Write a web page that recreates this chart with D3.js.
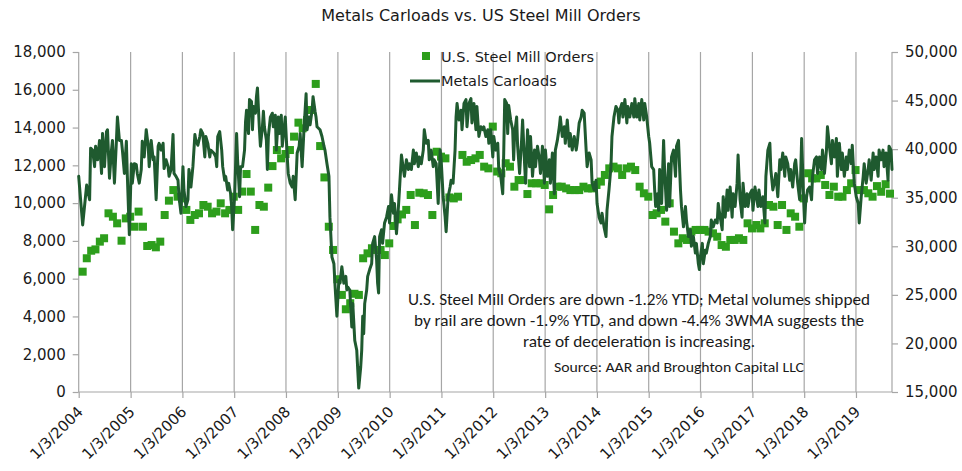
<!DOCTYPE html>
<html><head><meta charset="utf-8">
<script src="https://cdn.jsdelivr.net/npm/d3@7"></script>
<style>
body{margin:0;background:#fff;}
svg{display:block;}
</style></head>
<body><svg id="chart" width="962" height="471"></svg>
<script>
// ---------------- DATA ----------------
const title = "Metals Carloads vs. US Steel Mill Orders";
const xTickLabels = ["1/3/2004","1/3/2005","1/3/2006","1/3/2007","1/3/2008","1/3/2009","1/3/2010","1/3/2011","1/3/2012","1/3/2013","1/3/2014","1/3/2015","1/3/2016","1/3/2017","1/3/2018","1/3/2019"];
const leftTicks = [0,2000,4000,6000,8000,10000,12000,14000,16000,18000];
const rightTicks = [15000,20000,25000,30000,35000,40000,45000,50000];
const seriesNames = ["U.S. Steel Mill Orders","Metals Carloads"];
const notes = ["U.S. Steel Mill Orders are down -1.2% YTD; Metal volumes shipped",
  "by rail are down -1.9% YTD, and down -4.4% 3WMA suggests the",
  "rate of deceleration is increasing."];
const source = "Source: AAR and Broughton Capital LLC";
const firstWeek = "2004-01-03", lastWeek = "2019-09-14";

// Metals carloads: [weeks since 1/3/2004, carloads]
const carloads = [
[0,37200],[4,32200],[8,36300],[11,34800],[12,40100],[14,39900],[16,38200],[17,40300],[19,38900],[21,40900],[23,37500],[24,41600],[26,38200],[28,41800],[29,42000],[31,37000],[33,39900],[34,40900],[36,36500],[38,40900],[39,43300],[41,40900],[43,40900],[44,39900],[46,37500],[48,40800],[49,37200],[51,31200],[53,38500],[54,36500],[56,38500],[58,38400],[59,37500],[61,36500],[63,37900],[64,40800],[66,39200],[68,42000],[70,40300],[71,38200],[73,40900],[75,38900],[76,39200],[78,34800],[80,40300],[81,40600],[83,39900],[85,40600],[86,38000],[88,38900],[90,38200],[91,37200],[93,37900],[95,41500],[96,37500],[98,37200],[100,36800],[101,35100],[103,33400],[105,38200],[106,35800],[108,34100],[110,34800],[111,37900],[113,36100],[115,38200],[117,41500],[118,40900],[120,40400],[122,41300],[123,42000],[125,41600],[127,39200],[128,41300],[130,40600],[132,39200],[133,39900],
[136,39600],[138,39200],[139,38200],[140,41300],[142,41800],[144,39900],[145,38200],[147,36800],[148,37200],[150,35800],[151,36500],[153,35400],[154,34100],[155,31700],[157,35100],[159,41600],[160,38900],[162,35100],[163,38200],[165,38200],[167,39900],[168,42800],[169,44000],[171,41600],[172,45100],[174,44900],[175,42000],[176,44400],[178,43700],[179,45400],[180,46300],[182,42000],[183,40300],[185,42300],[186,43900],[187,42300],[189,40900],[190,37900],[191,41300],[193,43300],[195,43700],[196,42300],[198,43500],[199,39900],[201,43300],[202,41600],[204,43500],[205,40300],[207,42300],[208,43300],[210,39200],[211,37500],[213,36500],[215,36100],[216,37200],[218,34800],[220,39600],[222,40300],[223,41600],[225,38200],[227,42300],[228,44000],[229,45700],[230,42000],[232,43300],[233,42500],[235,44000],[236,45400],[238,43900],[239,43300],[240,42300],[242,42100],[243,42000],[245,41300],[247,40300],[248,39900],[250,38500],[252,37200],[253,33000],[255,28900],[257,28200],[258,26200],[260,22800],[262,26500],[263,26200],[265,27900],[267,26200],[269,26900],[270,25500],
[271,25800],[273,25500],[275,21700],[276,24100],[278,20300],[280,19300],[281,17300],[282,15400],[284,17600],[285,19300],[286,22800],[287,21000],[288,24100],[290,25500],[291,26900],[293,27600],[295,28200],[296,30300],[298,31000],[300,28600],[301,26200],[302,25200],[303,31000],[305,31700],[306,30300],[308,32400],[310,33000],[312,34100],[313,32400],[315,35300],[317,33400],[318,34400],[320,31300],[322,34100],[323,35800],[325,39400],[327,37900],[328,37200],[330,38900],[332,37900],[333,38500],[335,37900],[337,39900],[338,38500],[340,39600],[342,38200],[343,39200],[345,38500],[347,39900],[348,42000],[350,40600],[352,40900],[353,38900],[355,39900],[357,38200],[358,38900],[360,38500],[362,34400],[364,39900],[365,38900],[367,35100],[369,33000],[370,31500],[372,35100],[374,36100],[375,36800],[377,36500],[379,39900],[380,43300],[381,44700],[383,43000],[385,44000],[386,42000],[388,44700],[390,45100],[391,42300],[393,44700],[395,45200],[396,42700],[398,44700],[400,42000],[401,44400],[403,41300],[405,42300],[407,42000],
[408,42300],[410,41300],[412,42000],[413,40600],[415,42000],[417,39200],[418,41300],[420,39900],[422,40600],[423,37900],[425,37200],[427,35400],[428,39600],[429,45100],[431,44700],[432,41600],[433,44500],[435,43000],[437,42000],[438,38900],[439,41600],[441,43300],[442,40300],[444,37500],[446,40900],[447,43000],[449,38500],[450,36500],[452,42000],[454,38200],[455,41300],[457,37200],[459,39900],[460,38200],[462,40300],[464,38900],[465,37500],[467,40300],[469,36500],[470,39900],[472,37200],[474,38900],[475,36500],[477,39600],[479,35400],[480,39900],[482,40900],[484,42300],[485,43300],[487,41300],[489,42300],[490,40600],[492,43000],[494,40300],[495,41600],[497,39900],[499,41300],[501,39900],[502,40600],[504,42700],[506,43300],[507,44000],[509,43700],[511,39900],[512,38200],[514,39600],[516,38900],[517,36500],[519,35800],[521,36800],[522,34400],[524,33000],[526,32400],[527,33400],[529,32000],[531,31000],[532,33700],[534,35800],[536,38200],[537,41300],[539,43300],[541,44400],[543,44000],[544,42700],
[545,44000],[547,44700],[548,43300],[550,45100],[552,42700],[553,44400],[555,43300],[557,44700],[559,43300],[560,45200],[562,43300],[564,44700],[565,43000],[567,45100],[569,43000],[570,44700],[572,43300],[574,41300],[575,40600],[577,38200],[579,37900],[580,35800],[581,34100],[583,35400],[584,33700],[585,37900],[587,34400],[589,40900],[590,37900],[592,33700],[594,38500],[595,34100],[597,39200],[599,39900],[601,37200],[602,40300],[604,40900],[606,35800],[607,34100],[609,32000],[611,34100],[612,32700],[614,31000],[616,31700],[617,30000],[619,31000],[621,29300],[622,30300],[624,28200],[625,27600],[626,28900],[628,30300],[629,28200],[631,29600],[632,29300],[634,30300],[636,31000],[637,32700],[639,32000],[641,32700],[643,32400],[644,34400],[646,33000],[648,31700],[649,35100],[651,33000],[653,35800],[654,33700],[656,36100],[658,33000],[659,35400],[661,34100],[663,36500],[664,39400],[666,34800],[668,33000],[669,36500],[671,34100],[673,35400],[674,34100],[676,35400],[678,35800],[679,33700],[681,36100],
[682,35400],[684,34100],[685,35800],[687,34100],[689,35100],[691,32400],[692,37200],[694,39900],[696,40600],[697,37900],[699,35800],[701,36800],[702,37500],[704,35100],[706,38900],[707,37900],[709,39600],[711,37200],[712,39200],[714,38500],[716,36800],[717,37900],[719,36100],[721,38500],[722,38900],[724,36500],[726,34800],[727,37200],[728,41100],[730,34800],[731,32400],[732,34400],[734,35800],[736,36100],[738,34800],[739,37200],[741,38900],[743,39200],[744,37500],[746,39200],[748,37900],[749,39900],[751,37500],[753,39900],[754,42300],[756,40300],[758,38500],[759,40900],[761,39200],[763,41100],[764,37200],[766,40600],[768,37900],[769,39600],[771,37200],[773,39200],[774,37900],[776,39900],[778,38500],[779,40400],[781,36500],[783,35100],[785,34400],[786,32400],[788,35100],[790,37200],[791,38500],[793,36500],[795,37900],[796,38900],[798,36800],[800,39600],[801,37900],[803,39200],[805,37200],[806,39900],[808,38900],[810,39900],[811,38200],[813,39600],[815,36800],[816,40300],[818,39900],[819,37900]
];

// U.S. steel mill orders, monthly from Jan 2004 (month-end dates)
const millOrdersStart = [2004, 0];
const millOrders = [
6370,7080,7480,7550,7960,8140,9460,9280,8930,8010,9190,9280,
8750,9550,8750,7730,7780,7660,7960,9370,10130,10690,10340,10250,
9640,9110,9370,9460,9900,9810,9460,9550,9990,9460,9640,10340,
9640,10610,11540,10610,8580,9900,9810,10820,11960,12810,12370,12600,
12810,13520,14260,13960,14400,14930,16310,13020,11360,8750,7520,5970,
5140,4380,4700,5200,5140,7080,7340,7610,7520,7520,7250,7870,
8790,9140,9400,9640,10430,8840,10550,10520,10430,9370,12720,12460,
12370,10300,10250,10340,12550,12190,12280,12370,12550,11930,11840,14050,
11670,11580,12110,11930,10870,11220,11220,10480,11050,11050,11050,10960,
9670,10430,10870,10870,10780,10690,10690,10690,10870,10780,10780,10960,
11140,11490,11840,11930,11840,11490,11840,11930,11750,10870,10520,10340,
9370,9460,9640,9020,9990,8490,7870,8140,8050,8490,8580,8580,
8580,8490,8400,8220,7780,7690,8050,8050,8140,8050,8930,8660,
8840,8660,8930,9900,9810,8840,9900,8580,9460,9280,8750,10250,
11580,11310,11310,11490,10960,10430,10870,10340,10340,10690,11050,11750,
10690,10690,10520,10340,10900,10600,11000,10500
];

// ---------------- CHART ----------------
const svg = d3.select("#chart");
const L = 78.7, R = 892, T = 52, B = 392;
const axisColor = "#a6a6a6";
const lineColor = "#1f5a2f", markColor = "#2d9e1c";
const tickFont = "DejaVu Sans, Verdana, sans-serif";
const noteFont = "Carlito, Lato, sans-serif";

const parse = d3.timeParse("%Y-%m-%d");
const t0 = parse(firstWeek), t1 = parse(lastWeek);
const x = d3.scaleTime().domain([t0, t1]).range([L, R]);
const yL = d3.scaleLinear().domain([0, 18000]).range([B, T]);
const yR = d3.scaleLinear().domain([15000, 50000]).range([B, T]);

const yearTicks = xTickLabels.map(s => { const p = s.split("/"); return new Date(+p[2], +p[0]-1, +p[1]); });

// gridlines
svg.append("g").selectAll("line").data(yearTicks.slice(1)).join("line")
  .attr("x1", d => x(d)).attr("x2", d => x(d)).attr("y1", T).attr("y2", B)
  .attr("stroke", axisColor).attr("stroke-width", 1.2);

// axes
const fmt = d3.format(",");
const gL = svg.append("g").attr("transform", `translate(${L},0)`)
  .call(d3.axisLeft(yL).tickValues(leftTicks).tickFormat(fmt).tickSize(6).tickPadding(7));
const gR = svg.append("g").attr("transform", `translate(${R},0)`)
  .call(d3.axisRight(yR).tickValues(rightTicks).tickFormat(fmt).tickSize(6).tickPadding(7));
const gB = svg.append("g").attr("transform", `translate(0,${B})`)
  .call(d3.axisBottom(x).tickValues(yearTicks).tickFormat((d,i) => xTickLabels[i]).tickSize(6).tickPadding(4));
[gL, gR, gB].forEach(g => {
  g.select(".domain").attr("stroke", axisColor).attr("stroke-width", 1.2);
  g.selectAll(".tick line").attr("stroke", axisColor).attr("stroke-width", 1.2);
  g.selectAll("text").attr("font-family", tickFont).attr("font-size", 15).attr("fill", "#1a1a1a");
});
gL.select(".domain").attr("d", `M0,${T}V${B}`);
gR.select(".domain").attr("d", `M0,${T}V${B}`);
gB.select(".domain").attr("d", `M${L},0H${R}`);
gB.selectAll(".tick text")
  .attr("text-anchor", "end")
  .attr("transform", "translate(1,17) rotate(-45)")
  .attr("dy", "0.35em").attr("y", 0).attr("x", 0);

// steel mill orders squares
const monthDate = i => new Date(millOrdersStart[0], millOrdersStart[1] + i + 1, 0);
svg.append("g").selectAll("rect").data(millOrders).join("rect")
  .attr("x", (d,i) => x(monthDate(i)) - 4).attr("y", d => yL(d) - 4)
  .attr("width", 8).attr("height", 8).attr("fill", markColor);

// carloads line
const weekDate = w => d3.timeDay.offset(t0, w * 7);
svg.append("path").datum(carloads)
  .attr("fill", "none").attr("stroke", lineColor).attr("stroke-width", 3)
  .attr("stroke-linejoin", "round").attr("stroke-linecap", "round")
  .attr("d", d3.line().x(d => x(weekDate(d[0]))).y(d => yR(d[1])));

// title
svg.append("text").attr("x", 481).attr("y", 21).attr("text-anchor", "middle")
  .attr("font-family", tickFont).attr("font-size", 16).attr("fill", "#1a1a1a").text(title);

// legend
const lg = svg.append("g");
lg.append("rect").attr("x", 422).attr("y", 52).attr("width", 8).attr("height", 8).attr("fill", markColor);
lg.append("text").attr("x", 441).attr("y", 62).attr("font-family", tickFont).attr("font-size", 14.5).attr("fill", "#1a1a1a").text(seriesNames[0]);
lg.append("line").attr("x1", 410).attr("x2", 440).attr("y1", 81).attr("y2", 81).attr("stroke", lineColor).attr("stroke-width", 3);
lg.append("text").attr("x", 441).attr("y", 86).attr("font-family", tickFont).attr("font-size", 14.5).attr("fill", "#1a1a1a").text(seriesNames[1]);

// annotation
const noteW = [462, 450, 232];
const noteY = [305, 326, 347];
notes.forEach((s, i) => {
  svg.append("text").attr("x", 639).attr("y", noteY[i]).attr("text-anchor", "middle")
    .attr("font-family", noteFont).attr("font-size", 15.5).attr("fill", "#1a1a1a")
    .attr("textLength", noteW[i]).attr("lengthAdjust", "spacingAndGlyphs").text(s);
});
svg.append("text").attr("x", 679).attr("y", 372).attr("text-anchor", "middle")
  .attr("font-family", noteFont).attr("font-size", 14.5).attr("fill", "#1a1a1a")
  .attr("textLength", 250).attr("lengthAdjust", "spacingAndGlyphs").text(source);
</script></body></html>
